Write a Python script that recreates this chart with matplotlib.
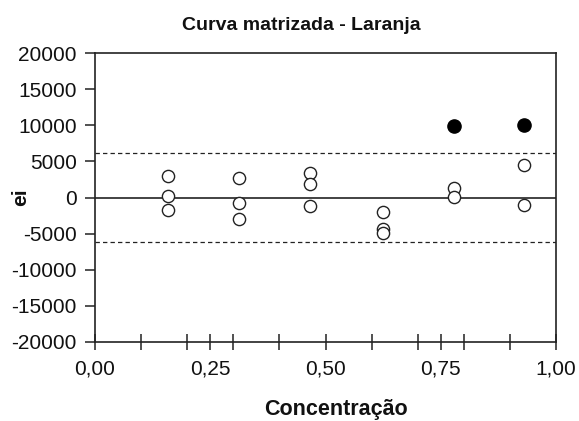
import matplotlib
matplotlib.use("Agg")
import matplotlib.pyplot as plt
from matplotlib.ticker import MultipleLocator, FuncFormatter

plt.rcParams['font.family'] = ['Liberation Sans', 'DejaVu Sans']

# Residuals (ei) per concentration level
conc_open = [0.159, 0.159, 0.159,
             0.313, 0.313, 0.313,
             0.466, 0.466, 0.466,
             0.624, 0.624, 0.624,
             0.779, 0.779,
             0.931, 0.931]
ei_open = [3050, 190, -1750,
           2770, -780, -3050,
           3330, 1940, -1110,
           -2080, -4300, -4940,
           1300, 100,
           4540, -1010]

# Points flagged as outliers
conc_out = [0.779, 0.931]
ei_out = [9850, 10080]

# Acceptance limits
limit = 6240

fig = plt.figure(figsize=(5.79, 4.21), dpi=100)
ax = fig.add_axes([95 / 579, 1 - 341.7 / 421, (556 - 95) / 579, (341.7 - 53.3) / 421])

ax.axhline(0, color='#222222', lw=1.2, zorder=1)
ax.axhline(limit, color='#222222', lw=0.9, ls=(0, (3.5, 2.5)), zorder=1)
ax.axhline(-limit, color='#222222', lw=0.9, ls=(0, (3.5, 2.5)), zorder=1)

ax.plot(conc_open, ei_open, ls='none', marker='o', ms=8.8, mfc='white',
        mec='#222222', mew=1.0, zorder=3)
ax.plot(conc_out, ei_out, ls='none', marker='o', ms=9.5, mfc='black',
        mec='black', mew=1.0, zorder=3)

ax.set_xlim(0, 1)
ax.set_ylim(-20000, 20000)
ax.xaxis.set_major_locator(MultipleLocator(0.25))
ax.xaxis.set_minor_locator(MultipleLocator(0.1))
ax.yaxis.set_major_locator(MultipleLocator(5000))
ax.xaxis.set_major_formatter(FuncFormatter(lambda v, p: f"{v:.2f}".replace('.', ',')))
ax.yaxis.set_major_formatter(FuncFormatter(lambda v, p: f"{int(round(v))}"))

ax.tick_params(axis='x', which='both', direction='inout', length=12, width=1.1,
               pad=7, labelsize=15, colors='#222222', labelcolor='#111111')
ax.tick_params(axis='y', which='major', direction='out', length=7, width=1.1,
               pad=6, labelsize=15, colors='#222222', labelcolor='#111111')

for s in ax.spines.values():
    s.set_linewidth(1.2)
    s.set_color('#222222')

fig.text(301 / 579, 1 - 26 / 421, 'Curva matrizada - Laranja', ha='center',
         va='center', fontsize=14, fontweight='bold', color='#111111')
fig.text(336 / 579, 1 - 410 / 421, 'Concentração', ha='center', va='center',
         fontsize=15.5, fontweight='bold', color='#111111')
fig.text(21 / 579, 1 - 197 / 421, 'ei', ha='center', va='center', rotation=90,
         fontsize=15, fontweight='bold', color='#111111')

fig.savefig('out.png', dpi=100)
